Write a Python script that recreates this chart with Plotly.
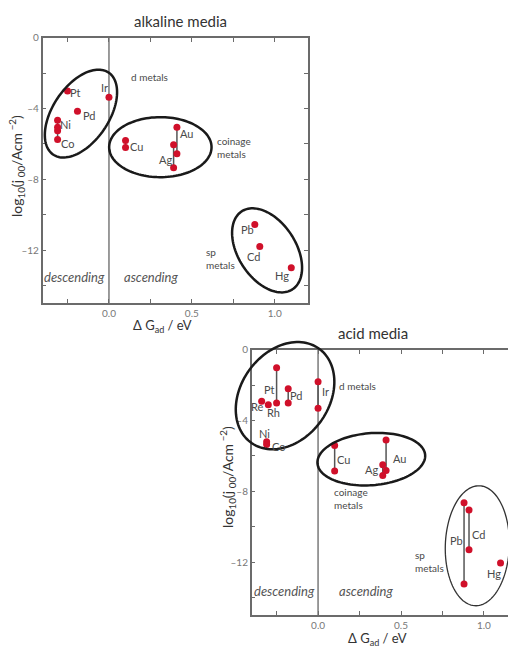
import numpy as np
import plotly.graph_objects as go

W, H = 508, 648
FONT = "Lato"

# ---------------- data: alkaline media ----------------
alk_metal = ["Pt", "Pd", "Ir", "Ni", "Co", "Cu", "Au", "Ag", "Pb", "Cd", "Hg"]
alk_dG = [-0.25, -0.19, 0.00, -0.31, -0.31, 0.10, 0.41, 0.39, 0.88, 0.91, 1.10]
alk_logj_hi = [-3.0, -4.15, -3.35, -4.65, -5.05, -5.8, -5.05, -6.05, -10.55, -11.8, -13.0]
alk_logj_lo = [-3.0, -4.15, -3.35, -5.25, -5.75, -6.2, -6.55, -7.35, -10.55, -11.8, -13.0]

# ---------------- data: acid media ----------------
acid_metal = ["Pt", "Pd", "Ir", "Re", "Rh", "Ni", "Co", "Cu", "Au", "Ag", "Pb", "Cd", "Hg"]
acid_dG = [-0.25, -0.18, 0.00, -0.34, -0.30, -0.31, -0.31, 0.10, 0.41, 0.39, 0.88, 0.91, 1.10]
acid_logj_hi = [-1.0, -2.2, -1.8, -2.9, -3.1, -5.2, -5.35, -5.4, -5.1, -6.5, -8.65, -9.05, -12.05]
acid_logj_lo = [-3.0, -3.0, -3.3, -2.9, -3.1, -5.2, -5.35, -6.85, -6.82, -7.1, -13.25, -11.3, -12.05]

# axis tick labels
x_tickvals = [-0.25, 0.0, 0.25, 0.5, 0.75, 1.0]
x_ticktext = ["", "0.0", "", "0.5", "", "1.0"]
y_tickvals = [0, -2, -4, -6, -8, -10, -12, -14]
y_ticktext = ["0", "", "–4", "", "–8", "", "–12", ""]

# ---------------- layout geometry ----------------
TOP = dict(xd=[0.084, 0.606], yd=[0.5324, 0.9414], xr=[-0.4, 1.2], yr=[-15, 0])
BOT = dict(xd=[0.4955, 1.0], yd=[0.0509, 0.4599], xr=[-0.4, 1.145], yr=[-15, 0])

# label layout (data coords of text centre)
alk_labels = [
    ("Pt", -0.20, -3.10), ("Pd", -0.12, -4.39), ("Ir", -0.024, -2.83),
    ("Ni", -0.265, -4.92), ("Co", -0.25, -5.99), ("Cu", 0.165, -6.12),
    ("Au", 0.466, -5.43), ("Ag", 0.339, -6.87), ("Pb", 0.833, -10.83),
    ("Cd", 0.873, -12.38), ("Hg", 1.045, -13.46),
]
alk_groups = [("d metals", 0.12, -2.2), ("coinage<br>metals", 0.641, -6.18), ("sp<br>metals", 0.575, -12.5)]
acid_labels = [
    ("Pt", -0.292, -2.23), ("Pd", -0.135, -2.56), ("Ir", 0.042, -2.37),
    ("Re", -0.364, -3.22), ("Rh", -0.268, -3.54), ("Ni", -0.322, -4.70),
    ("Co", -0.236, -5.45), ("Cu", 0.153, -6.21), ("Au", 0.489, -6.12),
    ("Ag", 0.324, -6.76), ("Pb", 0.833, -10.80), ("Cd", 0.968, -10.47),
    ("Hg", 1.061, -12.63),
]
acid_groups = [("d metals", 0.117, -2.05), ("coinage<br>metals", 0.086, -8.43), ("sp<br>metals", 0.570, -11.98)]

# ellipses: centre (data), semi-axes (px), angle (deg, ccw), width, colour
alk_ellipses = [
    (-0.169, -4.28, 49.5, 28.0, 56, 2.5, "#1a1a1a"),
    (0.31, -6.18, 51.2, 30.0, 0, 2.5, "#1a1a1a"),
    (0.954, -12.02, 46.5, 28.8, -57, 2.5, "#1a1a1a"),
]
acid_ellipses = [
    (-0.199, -2.585, 58.0, 44.0, 54, 2.5, "#1a1a1a"),
    (0.321, -6.18, 54.0, 26.0, 4.5, 2.5, "#1a1a1a"),
    (0.960, -11.08, 60.0, 32.0, 88, 1.3, "#333333"),
]


def to_px(g, x, y):
    xd, yd, xr, yr = g["xd"], g["yd"], g["xr"], g["yr"]
    px = (xd[0] + (x - xr[0]) / (xr[1] - xr[0]) * (xd[1] - xd[0])) * W
    py = (1 - (yd[0] + (y - yr[0]) / (yr[1] - yr[0]) * (yd[1] - yd[0]))) * H
    return px, py


def ellipse_shape(g, cx, cy, a, b, ang, lw, col):
    cpx, cpy = to_px(g, cx, cy)
    th = np.radians(ang)
    t = np.linspace(0, 2 * np.pi, 120)
    px = cpx + a * np.cos(t) * np.cos(th) - b * np.sin(t) * np.sin(th)
    py = cpy - (a * np.cos(t) * np.sin(th) + b * np.sin(t) * np.cos(th))
    X = px / W
    Y = 1 - py / H
    path = "M " + " L ".join(f"{x:.5f},{y:.5f}" for x, y in zip(X, Y)) + " Z"
    return dict(type="path", path=path, xref="paper", yref="paper",
                line=dict(color=col, width=lw), fillcolor="rgba(0,0,0,0)", layer="above")


fig = go.Figure()

RED = "#d0102a"
LINEC = "#555555"


def add_series(dG, hi, lo, xa, ya):
    lx, ly, mx, my = [], [], [], []
    for x, h, l in zip(dG, hi, lo):
        if h != l:
            lx += [x, x, None]
            ly += [h, l, None]
            mx += [x, x]
            my += [h, l]
        else:
            mx.append(x)
            my.append(h)
    fig.add_trace(go.Scatter(x=lx, y=ly, mode="lines", line=dict(color=LINEC, width=1.5),
                             xaxis=xa, yaxis=ya, hoverinfo="skip", showlegend=False))
    fig.add_trace(go.Scatter(x=mx, y=my, mode="markers", marker=dict(color=RED, size=7),
                             xaxis=xa, yaxis=ya, showlegend=False))


add_series(alk_dG, alk_logj_hi, alk_logj_lo, "x", "y")
add_series(acid_dG, acid_logj_hi, acid_logj_lo, "x2", "y2")

AXC = "#6b6b6b"


def xaxis(g, mirror):
    return dict(domain=g["xd"], range=g["xr"], showline=True, linecolor=AXC, linewidth=1.5,
                mirror=mirror, ticks="inside", ticklen=4, tickwidth=1, tickcolor=AXC,
                tickvals=x_tickvals, ticktext=x_ticktext, showgrid=False, zeroline=False,
                tickfont=dict(family=FONT, size=10, color="#777777"), automargin=False,
                fixedrange=True)


def yaxis(g, mirror, anchor):
    return dict(domain=g["yd"], range=g["yr"], showline=True, linecolor=AXC, linewidth=1.5,
                mirror=mirror, ticks="inside", ticklen=4, tickwidth=1, tickcolor=AXC,
                tickvals=y_tickvals, ticktext=y_ticktext, showgrid=False, zeroline=False,
                tickfont=dict(family=FONT, size=10, color="#777777"), automargin=False,
                anchor=anchor, fixedrange=True)


shapes = []
# zero lines
shapes.append(dict(type="line", xref="x", yref="y", x0=0, x1=0, y0=-15, y1=0,
                   line=dict(color="#7a7a7a", width=1.5), layer="below"))
shapes.append(dict(type="line", xref="x2", yref="y2", x0=0, x1=0, y0=-15, y1=0,
                   line=dict(color="#7a7a7a", width=1.5), layer="below"))
for e in alk_ellipses:
    shapes.append(ellipse_shape(TOP, *e))
for e in acid_ellipses:
    shapes.append(ellipse_shape(BOT, *e))

TXT = "#4a4a4a"
ann = []


def A(**kw):
    base = dict(showarrow=False, xanchor="center", yanchor="middle")
    base.update(kw)
    ann.append(base)


for name, x, y in alk_labels:
    A(x=x, y=y, xref="x", yref="y", text=name, font=dict(family=FONT, size=11, color=TXT))
for name, x, y in acid_labels:
    A(x=x, y=y, xref="x2", yref="y2", text=name, font=dict(family=FONT, size=11, color=TXT))
for name, x, y in alk_groups:
    A(x=x, y=y, xref="x", yref="y", text=name, xanchor="left", align="left",
      font=dict(family=FONT, size=10, color=TXT))
for name, x, y in acid_groups:
    A(x=x, y=y, xref="x2", yref="y2", text=name, xanchor="left", align="left",
      font=dict(family=FONT, size=10, color=TXT))

for xr, yr, xd, yd in [("x", "y", -0.2075, -13.5), ("x2", "y2", -0.205, -13.64)]:
    A(x=xd, y=yd, xref=xr, yref=yr, text="<i>descending</i>",
      font=dict(family=FONT, size=13, color="#555555"))
for xr, yr, xd, yd in [("x", "y", 0.252, -13.5), ("x2", "y2", 0.288, -13.64)]:
    A(x=xd, y=yd, xref=xr, yref=yr, text="<i>ascending</i>",
      font=dict(family=FONT, size=13, color="#555555"))

# titles
A(x=180 / W, y=1 - 21 / H, xref="paper", yref="paper", text="alkaline media",
  font=dict(family=FONT, size=15, color="#333333"))
A(x=373 / W, y=1 - 333 / H, xref="paper", yref="paper", text="acid media",
  font=dict(family=FONT, size=15, color="#333333"))
ylab = "log<sub>10</sub>(j<sub> 00</sub>/Acm<sup> −2</sup>)"
xlab = "Δ G<sub>ad</sub> / eV"
A(x=16 / W, y=1 - 166 / H, xref="paper", yref="paper", text=ylab, textangle=-90,
  font=dict(family=FONT, size=14, color="#333333"))
A(x=227 / W, y=1 - 477 / H, xref="paper", yref="paper", text=ylab, textangle=-90,
  font=dict(family=FONT, size=14, color="#333333"))
A(x=162 / W, y=1 - 326 / H, xref="paper", yref="paper", text=xlab,
  font=dict(family=FONT, size=13, color="#333333"))
A(x=377 / W, y=1 - 639 / H, xref="paper", yref="paper", text=xlab,
  font=dict(family=FONT, size=13, color="#333333"))

fig.update_layout(
    template="none",
    width=W, height=H, autosize=False,
    margin=dict(l=0, r=0, t=0, b=0, pad=0),
    paper_bgcolor="white", plot_bgcolor="rgba(0,0,0,0)",
    showlegend=False,
    xaxis=xaxis(TOP, "ticks") | dict(anchor="y"),
    yaxis=yaxis(TOP, "ticks", "x"),
    xaxis2=xaxis(BOT, "ticks") | dict(anchor="y2"),
    yaxis2=yaxis(BOT, False, "x2"),
    shapes=shapes,
    annotations=ann,
    font=dict(family=FONT),
)

fig.write_html("out.html", config={"displayModeBar": False},
               post_script="document.body.style.margin='0';document.body.style.overflow='hidden';")
